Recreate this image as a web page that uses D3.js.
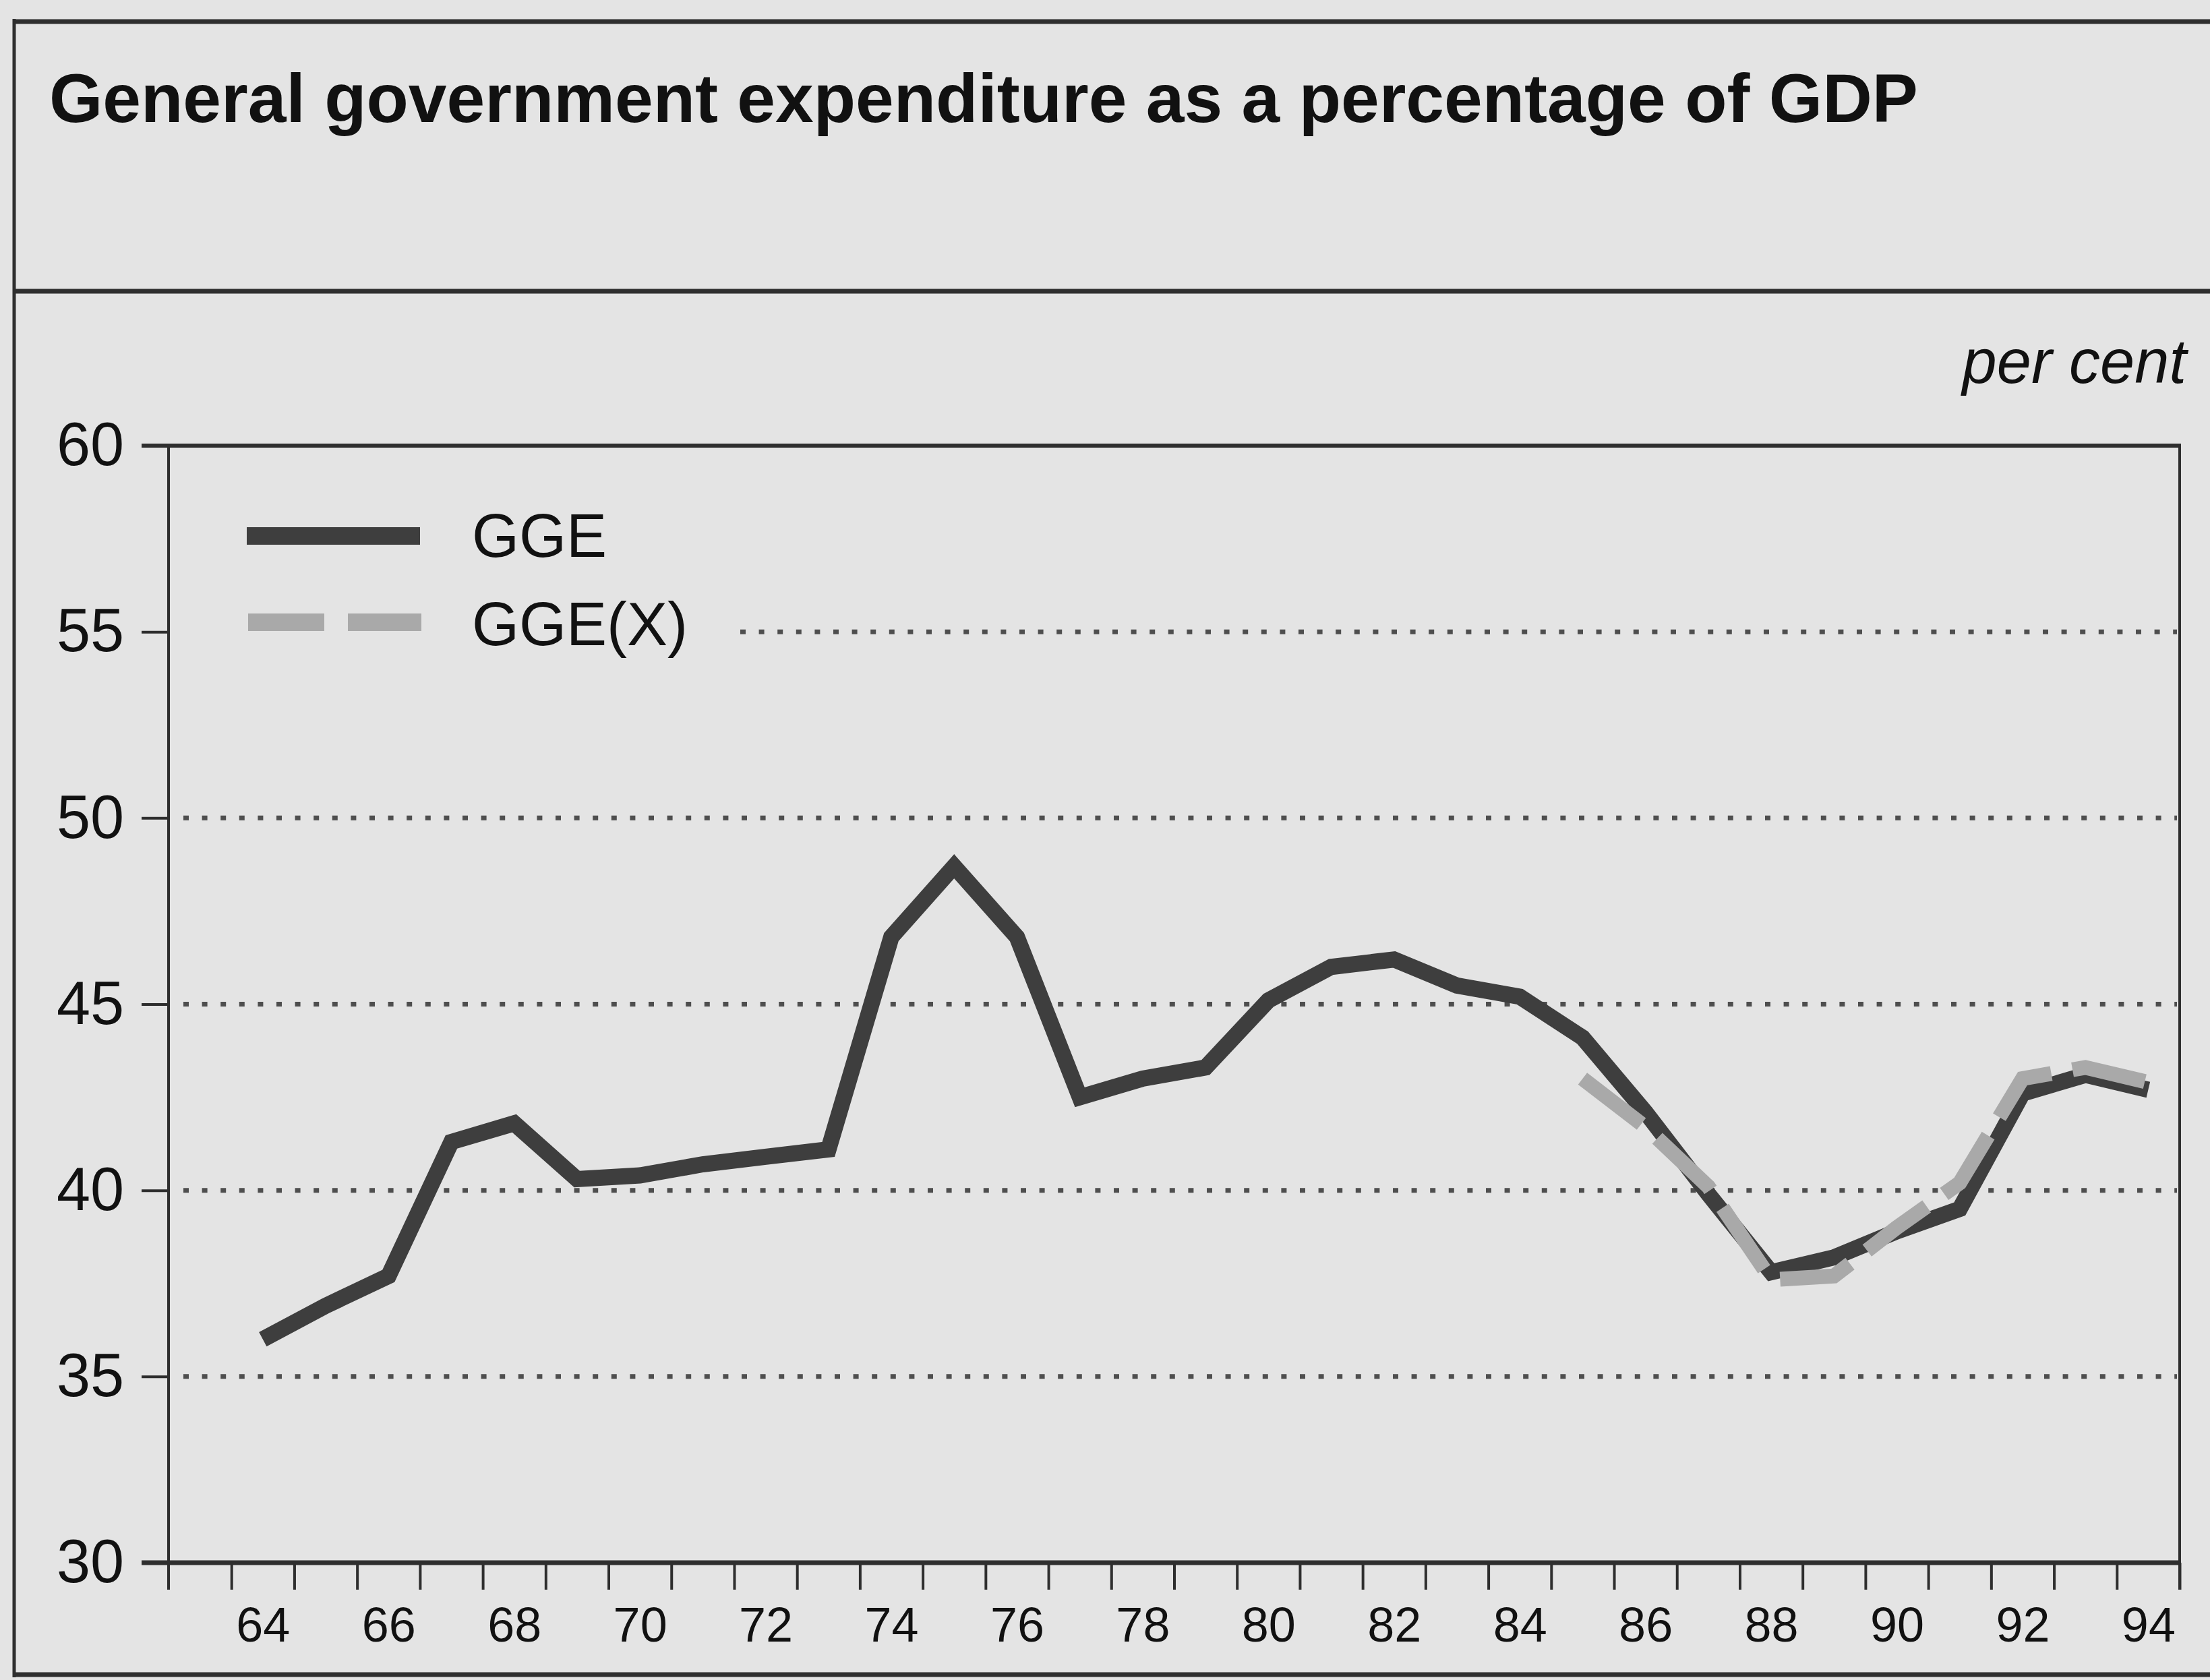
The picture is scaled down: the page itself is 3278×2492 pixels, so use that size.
<!DOCTYPE html>
<html>
<head>
<meta charset="utf-8">
<script src="https://cdn.jsdelivr.net/npm/d3@7"></script>
<style>
  html, body { margin: 0; padding: 0; background: #e4e4e4; }
  svg { display: block; }
  text { font-family: "Liberation Sans", Arial, Helvetica, sans-serif; fill: #111; }
</style>
</head>
<body>
<svg id="chart" width="3278" height="2492"></svg>
<script>
// Years covered by the chart (1964–1994), shown as two-digit labels
const years = d3.range(1964, 1995);
const labelYears = [64, 66, 68, 70, 72, 74, 76, 78, 80, 82, 84, 86, 88, 90, 92, 94];
const yTicks = [30, 35, 40, 45, 50, 55, 60];
const gridValues = [35, 40, 45, 50, 55];

// General government expenditure, per cent of GDP
const gge = [36.0, 36.9, 37.7, 41.3, 41.8, 40.3, 40.4, 40.7, 40.9, 41.1,
             46.8, 48.7, 46.8, 42.5, 43.0, 43.3, 45.1, 46.0, 46.2, 45.5,
             45.2, 44.1, 42.1, 39.9, 37.8, 38.2, 38.9, 39.5, 42.6, 43.1, 42.7];
// GGE(X): series available from 1985 onwards
const ggeX = [null, null, null, null, null, null, null, null, null, null,
              null, null, null, null, null, null, null, null, null, null,
              null, 43.0, 41.7, 40.1, 37.6, 37.7, 39.0, 40.2, 43.0, 43.3, 42.9];

const seriesNames = ["GGE", "GGE(X)"];
const title = "General government expenditure as a percentage of GDP";
const unitLabel = "per cent";

const svg = d3.select("#chart");
const W = 3278, H = 2492;

const plotLeft = 250, plotRight = 3233, plotTop = 661, plotBottom = 2318;

const x = d3.scaleLinear().domain([1962.5, 1994.5]).range([plotLeft, plotRight]);
const y = d3.scaleLinear().domain([30, 60]).range([plotBottom, plotTop]);

const frameColor = "#2e2e2e";
const fontStack = "'Liberation Sans', Arial, Helvetica, sans-serif";

// Page frame and header band
svg.append("rect").attr("x", 0).attr("y", 0).attr("width", W).attr("height", H).attr("fill", "#e4e4e4");
const frame = svg.append("g").attr("stroke", frameColor).attr("stroke-width", 7).attr("fill", "none");
frame.append("line").attr("x1", 21).attr("x2", W).attr("y1", 32).attr("y2", 32);
frame.append("line").attr("x1", 21).attr("x2", W).attr("y1", 432).attr("y2", 432);
frame.append("line").attr("x1", 21).attr("x2", W).attr("y1", 2484).attr("y2", 2484);
frame.append("line").attr("x1", 21).attr("x2", 21).attr("y1", 28).attr("y2", 2488).attr("stroke-width", 5);

// Title
const titleText = svg.append("text")
  .attr("x", 73).attr("y", 181)
  .attr("font-size", 102).attr("font-weight", "bold")
  .text(title);
const titleLen = titleText.node().getComputedTextLength();
if (Math.abs(titleLen - 2766) > 10) titleText.attr("textLength", 2766).attr("lengthAdjust", "spacingAndGlyphs");

// Unit label
svg.append("text")
  .attr("x", 3243).attr("y", 568)
  .attr("text-anchor", "end")
  .attr("font-size", 92).attr("font-style", "italic")
  .text(unitLabel);

// Dotted gridlines (the 55 line stops short of the legend)
svg.append("g").selectAll("line")
  .data(gridValues)
  .join("line")
  .attr("x1", d => d === 55 ? 1098 : plotLeft + 22)
  .attr("x2", plotRight - 4)
  .attr("y1", d => y(d)).attr("y2", d => y(d))
  .attr("stroke", "#4e4e4e")
  .attr("stroke-width", 7)
  .attr("stroke-dasharray", "8 19.6");

// Y axis
const yAxis = svg.append("g")
  .attr("transform", `translate(${plotLeft},0)`)
  .call(d3.axisLeft(y).tickValues(yTicks).tickSize(40).tickPadding(26).tickFormat(d3.format("d")));
yAxis.select(".domain").remove();
yAxis.selectAll(".tick line").attr("stroke", frameColor).attr("stroke-width", 4);
yAxis.selectAll(".tick text").attr("font-size", 90).attr("fill", "#111").attr("font-family", fontStack);

// X axis: tick marks on year boundaries
const boundaries = d3.range(1963.5, 1995, 1);
const xTicks = svg.append("g")
  .attr("transform", `translate(0,${plotBottom})`)
  .call(d3.axisBottom(x).tickValues(boundaries).tickSize(40).tickFormat(""));
xTicks.select(".domain").remove();
xTicks.selectAll(".tick line").attr("stroke", frameColor).attr("stroke-width", 4);

// X axis: labels centred on each (even) year
const xLabels = svg.append("g")
  .attr("transform", `translate(0,${plotBottom})`)
  .call(d3.axisBottom(x).tickValues(labelYears.map(d => 1900 + d)).tickSize(0).tickPadding(66)
        .tickFormat(d => String(d).slice(2)));
xLabels.select(".domain").remove();
xLabels.selectAll(".tick text").attr("font-size", 72).attr("fill", "#111").attr("font-family", fontStack);

// Plot box: top, left axis, right edge, bottom axis
const box = svg.append("g").attr("stroke", frameColor).attr("fill", "none");
box.append("line").attr("x1", plotLeft - 40).attr("x2", plotRight).attr("y1", plotTop).attr("y2", plotTop).attr("stroke-width", 6);
box.append("line").attr("x1", plotLeft).attr("x2", plotLeft).attr("y1", plotTop).attr("y2", plotBottom + 40).attr("stroke-width", 4);
box.append("line").attr("x1", plotRight).attr("x2", plotRight).attr("y1", plotTop - 3).attr("y2", plotBottom + 40).attr("stroke-width", 4);
box.append("line").attr("x1", plotLeft - 40).attr("x2", plotRight).attr("y1", plotBottom).attr("y2", plotBottom).attr("stroke-width", 7);

// Series lines
const line = d3.line()
  .defined(d => d.v != null)
  .x(d => x(d.year))
  .y(d => y(d.v));

const ggeData = years.map((yr, i) => ({ year: yr, v: gge[i] }));
const ggeXData = years.map((yr, i) => ({ year: yr, v: ggeX[i] }));

svg.append("path")
  .datum(ggeData)
  .attr("d", line)
  .attr("fill", "none")
  .attr("stroke", "#3e3e3e")
  .attr("stroke-width", 24)
  .attr("stroke-linejoin", "miter");

svg.append("path")
  .datum(ggeXData)
  .attr("d", line)
  .attr("fill", "none")
  .attr("stroke", "#a9a9a9")
  .attr("stroke-width", 22)
  .attr("stroke-linejoin", "miter")
  .attr("stroke-dasharray", "110 32");

// Legend
const legend = svg.append("g");
legend.append("line")
  .attr("x1", 366).attr("x2", 623).attr("y1", 795).attr("y2", 795)
  .attr("stroke", "#3e3e3e").attr("stroke-width", 26);
legend.append("line")
  .attr("x1", 368).attr("x2", 625).attr("y1", 923).attr("y2", 923)
  .attr("stroke", "#a9a9a9").attr("stroke-width", 26)
  .attr("stroke-dasharray", "113 35");
legend.append("text").attr("x", 700).attr("y", 826).attr("font-size", 90).text(seriesNames[0]);
legend.append("text").attr("x", 700).attr("y", 957).attr("font-size", 90).text(seriesNames[1]);
</script>
</body>
</html>
